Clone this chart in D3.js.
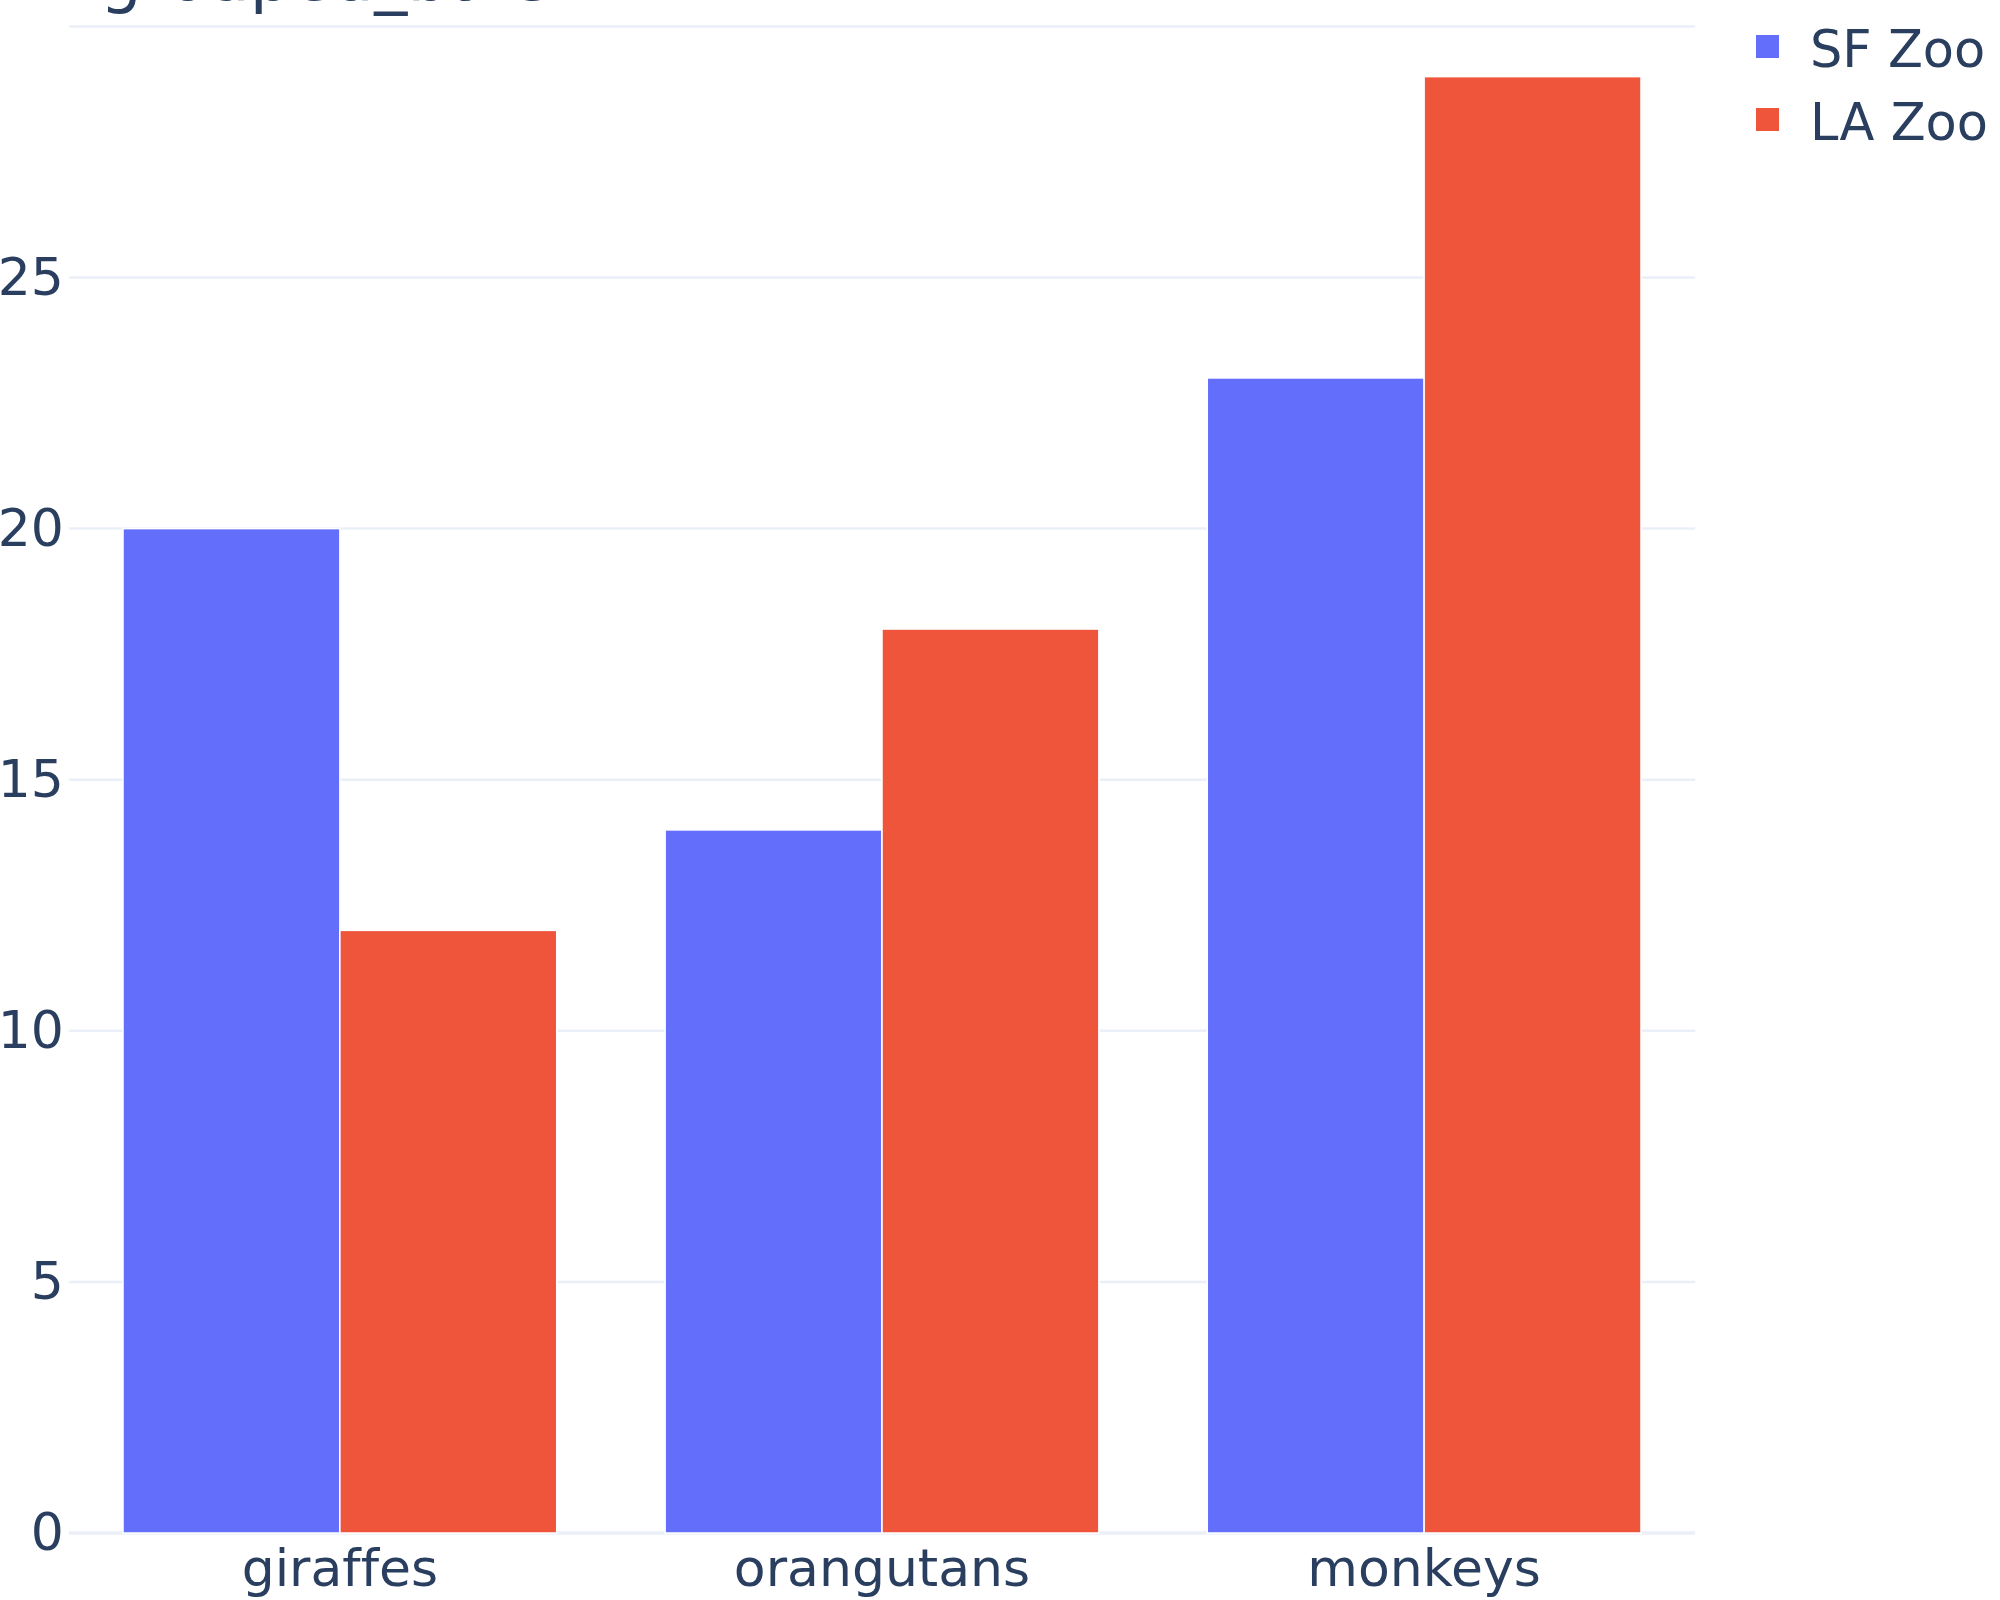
<!DOCTYPE html>
<html>
<head>
<meta charset="utf-8">
<script src="https://cdn.jsdelivr.net/npm/d3@7"></script>
<style>
  body { margin: 0; background: #fff; }
  text { font-family: "DejaVu Sans", Verdana, sans-serif; fill: #2a3f5f; font-variant-ligatures: none; }
</style>
</head>
<body>
<div class="chart"></div>
<script>
var categories = ['giraffes', 'orangutans', 'monkeys'];
var seriesNames = ['SF Zoo', 'LA Zoo'];
var sfZoo = [20, 14, 23];
var laZoo = [12, 18, 29];
var gridTicks = [0, 5, 10, 15, 20, 25, 30];
var yTickLabels = [0, 5, 10, 15, 20, 25];
var colors = ['#636efa', '#ef553b'];
var title = 'grouped_bars';

(function(){
  'use strict';

  var width = 2000, height = 1600;
  var plotLeft = 68.8, plotRight = 1695.2, plotTop = 0, plotBottom = 1533;

  var svg = d3.select('.chart')
    .append('svg')
    .attr('width', width)
    .attr('height', height);

  var x = d3.scaleBand()
    .domain(categories)
    .range([plotLeft, plotRight])
    .padding(0);

  var bw = x.bandwidth();
  var xInner = d3.scaleBand()
    .domain(seriesNames)
    .range([0.1 * bw, 0.9 * bw]);

  var y = d3.scaleLinear()
    .domain([0, 30.526])
    .range([plotBottom, plotTop]);

  // grid
  svg.append('g')
    .selectAll('line')
    .data(gridTicks)
    .enter().append('line')
    .attr('x1', plotLeft)
    .attr('x2', plotRight)
    .attr('y1', function(d){ return y(d); })
    .attr('y2', function(d){ return y(d); })
    .attr('stroke', '#ebf0f8')
    .attr('stroke-width', function(d){ return d === 0 ? 3.5 : 2.5; });

  // bars
  var rows = categories.map(function(c, i){
    return { cat: c, values: [sfZoo[i], laZoo[i]] };
  });

  var groups = svg.append('g')
    .selectAll('g')
    .data(rows)
    .enter().append('g')
    .attr('transform', function(d){ return 'translate(' + x(d.cat) + ',0)'; });

  groups.selectAll('rect')
    .data(function(d){
      return d.values.map(function(v, j){ return { name: seriesNames[j], value: v, idx: j }; });
    })
    .enter().append('rect')
    .attr('x', function(d){ return xInner(d.name); })
    .attr('width', xInner.bandwidth())
    .attr('y', function(d){ return y(d.value); })
    .attr('height', function(d){ return y(0) - y(d.value); })
    .attr('fill', function(d){ return colors[d.idx]; })
    .attr('stroke', '#fff')
    .attr('stroke-width', 1.5);

  // y tick labels (30 has a grid line but no label)
  var yAxis = d3.axisLeft(y)
    .tickValues(yTickLabels)
    .tickSize(0)
    .tickPadding(5);

  var ya = svg.append('g')
    .attr('transform', 'translate(' + plotLeft + ',0)')
    .call(yAxis);
  ya.select('.domain').remove();
  ya.selectAll('text')
    .attr('font-size', 52)
    .attr('font-family', '"DejaVu Sans", Verdana, sans-serif')
    .attr('fill', '#2a3f5f');

  // x tick labels
  var xAxis = d3.axisBottom(x)
    .tickSize(0)
    .tickPadding(16);

  var xa = svg.append('g')
    .attr('transform', 'translate(0,' + plotBottom + ')')
    .call(xAxis);
  xa.select('.domain').remove();
  xa.selectAll('text')
    .attr('font-size', 52)
    .attr('font-family', '"DejaVu Sans", Verdana, sans-serif')
    .attr('fill', '#2a3f5f');

  // legend
  var legend = svg.append('g')
    .selectAll('g')
    .data(seriesNames)
    .enter().append('g')
    .attr('transform', function(d, i){ return 'translate(1756,' + (67 + i * 73) + ')'; });

  legend.append('rect')
    .attr('x', 0)
    .attr('y', -32)
    .attr('width', 23)
    .attr('height', 23)
    .attr('fill', function(d, i){ return colors[i]; });

  legend.append('text')
    .attr('x', 54)
    .attr('y', 0)
    .attr('font-size', 51)
    .text(function(d){ return d; });

  // title, mostly cut off at the top edge
  svg.append('text')
    .attr('x', 100)
    .attr('y', 0)
    .attr('font-size', 66)
    .text(title);
})();
</script>
</body>
</html>
